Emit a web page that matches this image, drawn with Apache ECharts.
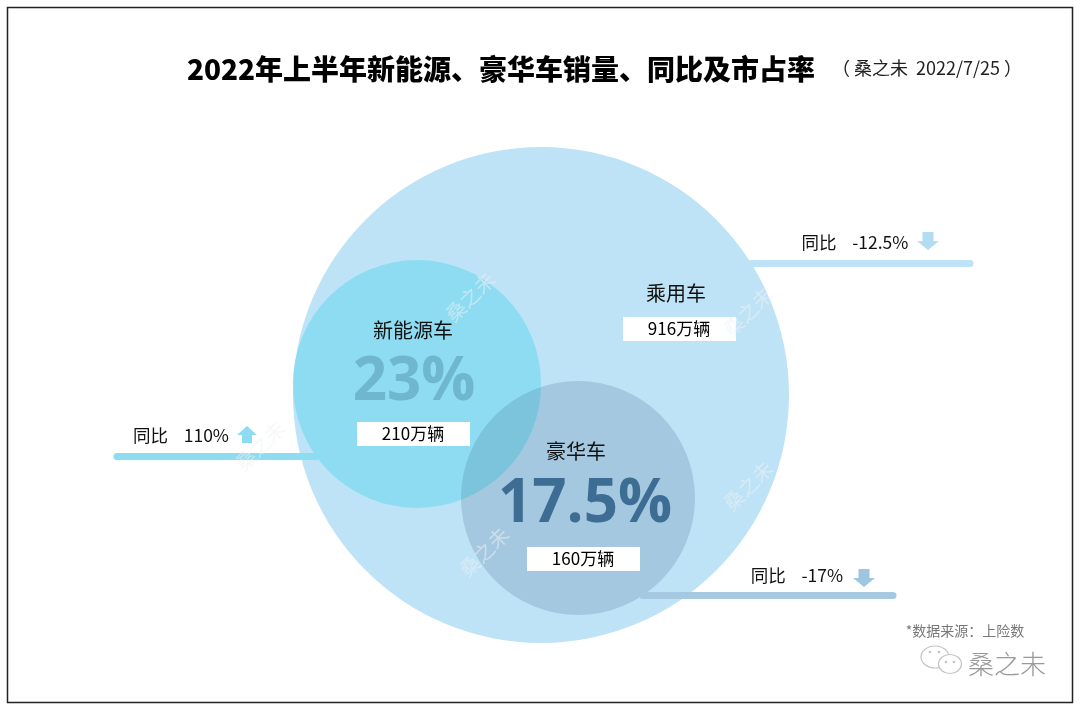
<!DOCTYPE html>
<html><head><meta charset="utf-8">
<script src="https://cdn.jsdelivr.net/npm/echarts@6/dist/echarts.min.js"></script>
<style>html,body{margin:0;padding:0;background:#fff}#c{width:1080px;height:710px}</style>
</head><body><div id="c"></div>
<script>
// ---- data ----
const categories = ['乘用车', '新能源车', '豪华车'];
const salesWan = [916, 210, 160];           // 万辆
const marketShare = [null, '23%', '17.5%']; // 市占率
const yoyPct = [-12.5, 110, -17];            // 同比 %
const titleText = '2022年上半年新能源、豪华车销量、同比及市占率';
const subTitle = '（ 桑之未  2022/7/25 ）';
const sourceText = '*数据来源：上险数';
const brand = '桑之未';

// ---- layout (pixel coordinates on a 1:1 hidden grid) ----
const layout = [
  {cx: 541, cy: 395, r: 248, color: '#bee3f6', labelY: 293, boxY: 329, boxX: 679, labelX: 676,
   line: [[751, 263], [970, 263]], lineColor: '#bee3f6', yoyX: 855, yoyY: 242, arrowX: 928, arrowY: 241, arrowColor: '#b3dcf3'},
  {cx: 417, cy: 384, r: 124, color: '#8ddcf1', labelY: 330, boxY: 434, boxX: 413, labelX: 413, shareY: 383, shareColor: '#6fb6cf', shareSize: 60,
   line: [[117, 456], [316, 456]], lineColor: '#8ddcf1', yoyX: 181, yoyY: 435, arrowX: 247, arrowY: 435, arrowColor: '#8ddcf1'},
  {cx: 578, cy: 498, r: 117, color: 'rgba(62,96,142,0.2)', labelY: 451, boxY: 559, boxX: 583, labelX: 576, shareY: 505, shareColor: '#3d6d93', shareSize: 60,
   line: [[643, 595], [893, 595]], lineColor: '#a5c9e1', yoyX: 797, yoyY: 575, arrowX: 864, arrowY: 578, arrowColor: '#9fc6e0'}
];

const FONT = '"Noto Sans CJK SC", "Noto Sans", sans-serif';
const chart = echarts.init(document.getElementById('c'));

const series = [];
// circles
series.push({
  type: 'scatter', z: 2, silent: true,
  data: layout.map((L, i) => ({
    name: categories[i],
    value: [L.cx, L.cy],
    symbolSize: L.r * 2,
    itemStyle: {color: L.color, opacity: 1}
  })),
  symbol: 'circle'
});
// leader lines
layout.forEach((L, i) => {
  series.push({
    type: 'lines', coordinateSystem: 'cartesian2d', polyline: false, z: 3,
    lineStyle: {color: L.lineColor, width: 7, cap: 'round', opacity: 1},
    data: [{coords: L.line}], silent: true
  });
});

const g = [];
// frame
g.push({type: 'rect', shape: {x: 7.5, y: 7.5, width: 1065, height: 695}, style: {fill: 'none', stroke: '#222', lineWidth: 1.5}, z: 100});
// title
g.push({type: 'text', x: 501, y: 69, style: {text: titleText, font: '900 28px ' + FONT, fill: '#000', align: 'center', verticalAlign: 'middle'}, z: 50});
g.push({type: 'text', x: 927, y: 68, style: {text: subTitle, font: '18px ' + FONT, fill: '#222', align: 'center', verticalAlign: 'middle'}, z: 50});

// labels
layout.forEach((L, i) => {
  g.push({type: 'text', x: L.labelX, y: L.labelY, style: {text: categories[i], font: '20px ' + FONT, fill: '#111', align: 'center', verticalAlign: 'middle'}, z: 50});
  g.push({type: 'rect', shape: {x: L.boxX - 56, y: L.boxY - 12, width: 113, height: 24}, style: {fill: '#fff'}, z: 40});
  g.push({type: 'text', x: L.boxX, y: L.boxY, style: {text: salesWan[i] + '万辆', font: '17px ' + FONT, fill: '#000', align: 'center', verticalAlign: 'middle'}, z: 50});
  if (marketShare[i]) {
    g.push({type: 'text', x: L.labelX + (i === 2 ? 9 : 1), y: L.shareY, style: {text: marketShare[i], font: 'bold ' + L.shareSize + 'px "Open Sans", ' + FONT, fill: L.shareColor, align: 'center', verticalAlign: 'middle'}, z: 45});
  }
  const v = yoyPct[i];
  g.push({type: 'text', x: L.yoyX, y: L.yoyY, style: {text: '同比    ' + v + '%', font: '17.5px ' + FONT, fill: '#111', align: 'center', verticalAlign: 'middle'}, z: 50});
  // arrow
  const ax = L.arrowX, ay = L.arrowY;
  let pts;
  if (v >= 0) {
    pts = [[ax, ay - 9], [ax + 10, ay], [ax + 5, ay], [ax + 5, ay + 8], [ax - 5, ay + 8], [ax - 5, ay], [ax - 10, ay]];
  } else {
    pts = [[ax, ay + 9], [ax + 11, ay], [ax + 5.5, ay], [ax + 5.5, ay - 9], [ax - 5.5, ay - 9], [ax - 5.5, ay], [ax - 11, ay]];
  }
  g.push({type: 'polygon', shape: {points: pts}, style: {fill: L.arrowColor}, z: 50});
});

// watermarks
[[470, 297], [260, 446], [748, 486], [484, 552], [748, 312]].forEach(p => {
  g.push({type: 'text', x: p[0], y: p[1], rotation: Math.PI / 4, style: {text: brand, font: '20px ' + FONT, fill: 'rgba(236,240,244,0.55)', align: 'center', verticalAlign: 'middle'}, z: 60});
});

// source
g.push({type: 'text', x: 965, y: 631, style: {text: sourceText, font: '14px ' + FONT, fill: '#777', align: 'center', verticalAlign: 'middle'}, z: 50});
// wechat logo
g.push({type: 'ellipse', shape: {cx: 935, cy: 657, rx: 14, ry: 11}, style: {fill: '#fff', stroke: '#c4c4c4', lineWidth: 1.2}, z: 50});
g.push({type: 'ellipse', shape: {cx: 950, cy: 664, rx: 11.5, ry: 9.5}, style: {fill: '#fff', stroke: '#c4c4c4', lineWidth: 1.2}, z: 51});
[[930, 652], [939, 652], [946, 662], [954, 662]].forEach(p => g.push({type: 'circle', shape: {cx: p[0], cy: p[1], r: 1.3}, style: {fill: '#c4c4c4'}, z: 52}));
g.push({type: 'text', x: 1007, y: 664, style: {text: brand, font: '300 26px ' + FONT, fill: '#999', align: 'center', verticalAlign: 'middle'}, z: 50});

chart.setOption({
  animation: false,
  backgroundColor: '#fff',
  grid: {left: 0, right: 0, top: 0, bottom: 0},
  xAxis: {type: 'value', min: 0, max: 1080, show: false},
  yAxis: {type: 'value', min: 0, max: 710, inverse: true, show: false},
  series: series,
  graphic: g
});
</script></body></html>
